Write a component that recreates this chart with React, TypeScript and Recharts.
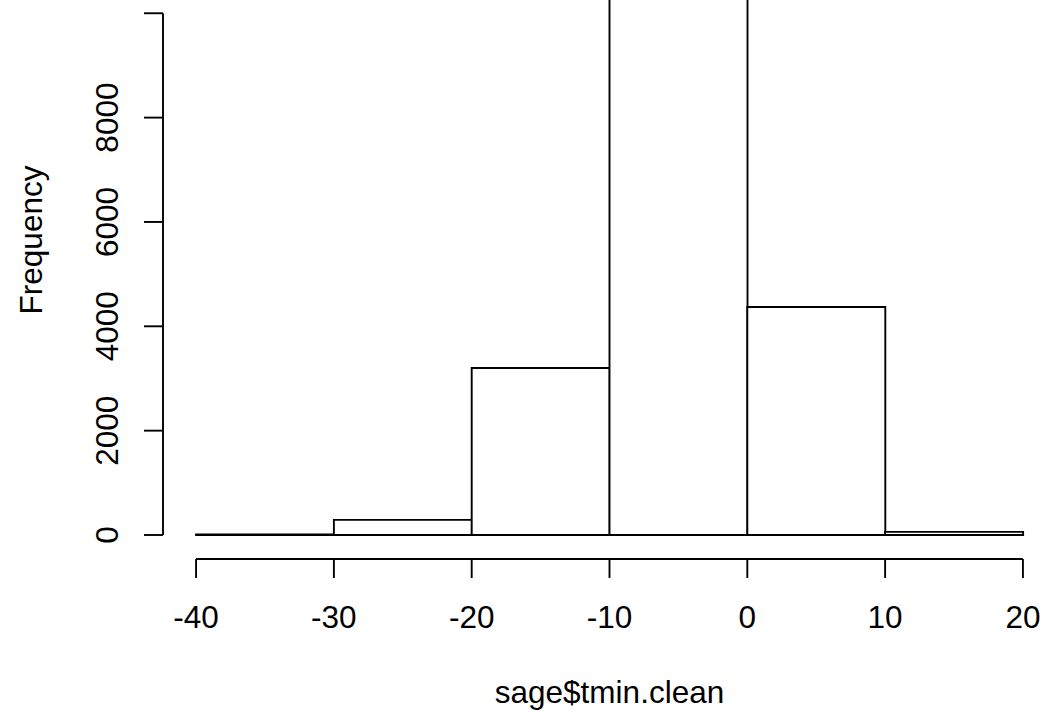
import { Bar, ComposedChart, ReferenceLine, XAxis, YAxis } from "recharts";

// histogram of sage$tmin.clean, bins of width 10
const binMids = [-35, -25, -15, -5, 5, 15];
const counts = [10, 290, 3200, 11500, 4370, 60];
const breaks = [-40, -30, -20, -10, 0, 10, 20];
const yTicks = [0, 2000, 4000, 6000, 8000, 10000];

const data = binMids.map((mid, i) => ({ mid, count: counts[i] }));

const FONT = '"Liberation Sans", Arial, Helvetica, sans-serif';
const FS = 31.5;
const LW = 1.9;

// R style: axes padded 4% beyond the data range
const xPad = (breaks[breaks.length - 1] - breaks[0]) * 0.04;
const xDomain = [breaks[0] - xPad, breaks[breaks.length - 1] + xPad];
const maxCount = Math.max(...counts);
const yDomain = [-maxCount * 0.04, maxCount * 1.04];

const XTick = ({ x, y, payload }: any) => (
  <text x={x} y={y + 50} textAnchor="middle" fontSize={FS} fontFamily={FONT} fill="#000">
    {payload.value}
  </text>
);

const YTick = ({ x, y, payload }: any) => {
  // label would run off the top of the device, R drops it
  if (y < 60) return <g />;
  return (
    <text
      transform={`translate(${x - 26},${y}) rotate(-90)`}
      textAnchor="middle"
      fontSize={FS}
      fontFamily={FONT}
      fill="#000"
    >
      {payload.value}
    </text>
  );
};

export default function App() {
  return (
    <div style={{ position: "absolute", top: 0, left: 0, width: 1045, height: 711, overflow: "hidden", background: "#fff" }}>
      <ComposedChart
        width={1045}
        height={711}
        data={data}
        margin={{ top: -89, right: -11, bottom: 0, left: 0 }}
        barCategoryGap={0}
        barGap={0}
      >
        <XAxis
          dataKey="mid"
          type="number"
          domain={xDomain}
          allowDataOverflow
          ticks={breaks}
          interval={0}
          axisLine={false}
          tickSize={19}
          tickMargin={0}
          tickLine={{ stroke: "#000", strokeWidth: LW }}
          tick={<XTick />}
          height={152}
          label={{
            content: ({ viewBox }: any) => (
              <text
                x={viewBox.x + viewBox.width / 2}
                y={703}
                textAnchor="middle"
                fontSize={FS}
                fontFamily={FONT}
                fill="#000"
              >
                sage$tmin.clean
              </text>
            ),
          }}
        />
        <YAxis
          type="number"
          domain={yDomain}
          allowDataOverflow
          ticks={yTicks}
          interval={0}
          width={163}
          axisLine={false}
          tickSize={19}
          tickMargin={0}
          tickLine={{ stroke: "#000", strokeWidth: LW }}
          tick={<YTick />}
          label={{
            content: ({ viewBox }: any) => (
              <text
                transform={`translate(42,${viewBox.y + viewBox.height / 2 + 5}) rotate(-90)`}
                textAnchor="middle"
                fontSize={FS}
                fontFamily={FONT}
                fill="#000"
              >
                Frequency
              </text>
            ),
          }}
        />
        <ReferenceLine
          segment={[
            { x: breaks[0], y: yDomain[0] },
            { x: breaks[breaks.length - 1], y: yDomain[0] },
          ]}
          stroke="#000"
          strokeWidth={LW}
          ifOverflow="visible"
        />
        <ReferenceLine
          segment={[
            { x: xDomain[0], y: yTicks[0] },
            { x: xDomain[0], y: yTicks[yTicks.length - 1] },
          ]}
          stroke="#000"
          strokeWidth={LW}
          ifOverflow="visible"
        />
        <Bar dataKey="count" fill="#fff" stroke="#000" strokeWidth={LW} isAnimationActive={false} />
      </ComposedChart>
    </div>
  );
}
